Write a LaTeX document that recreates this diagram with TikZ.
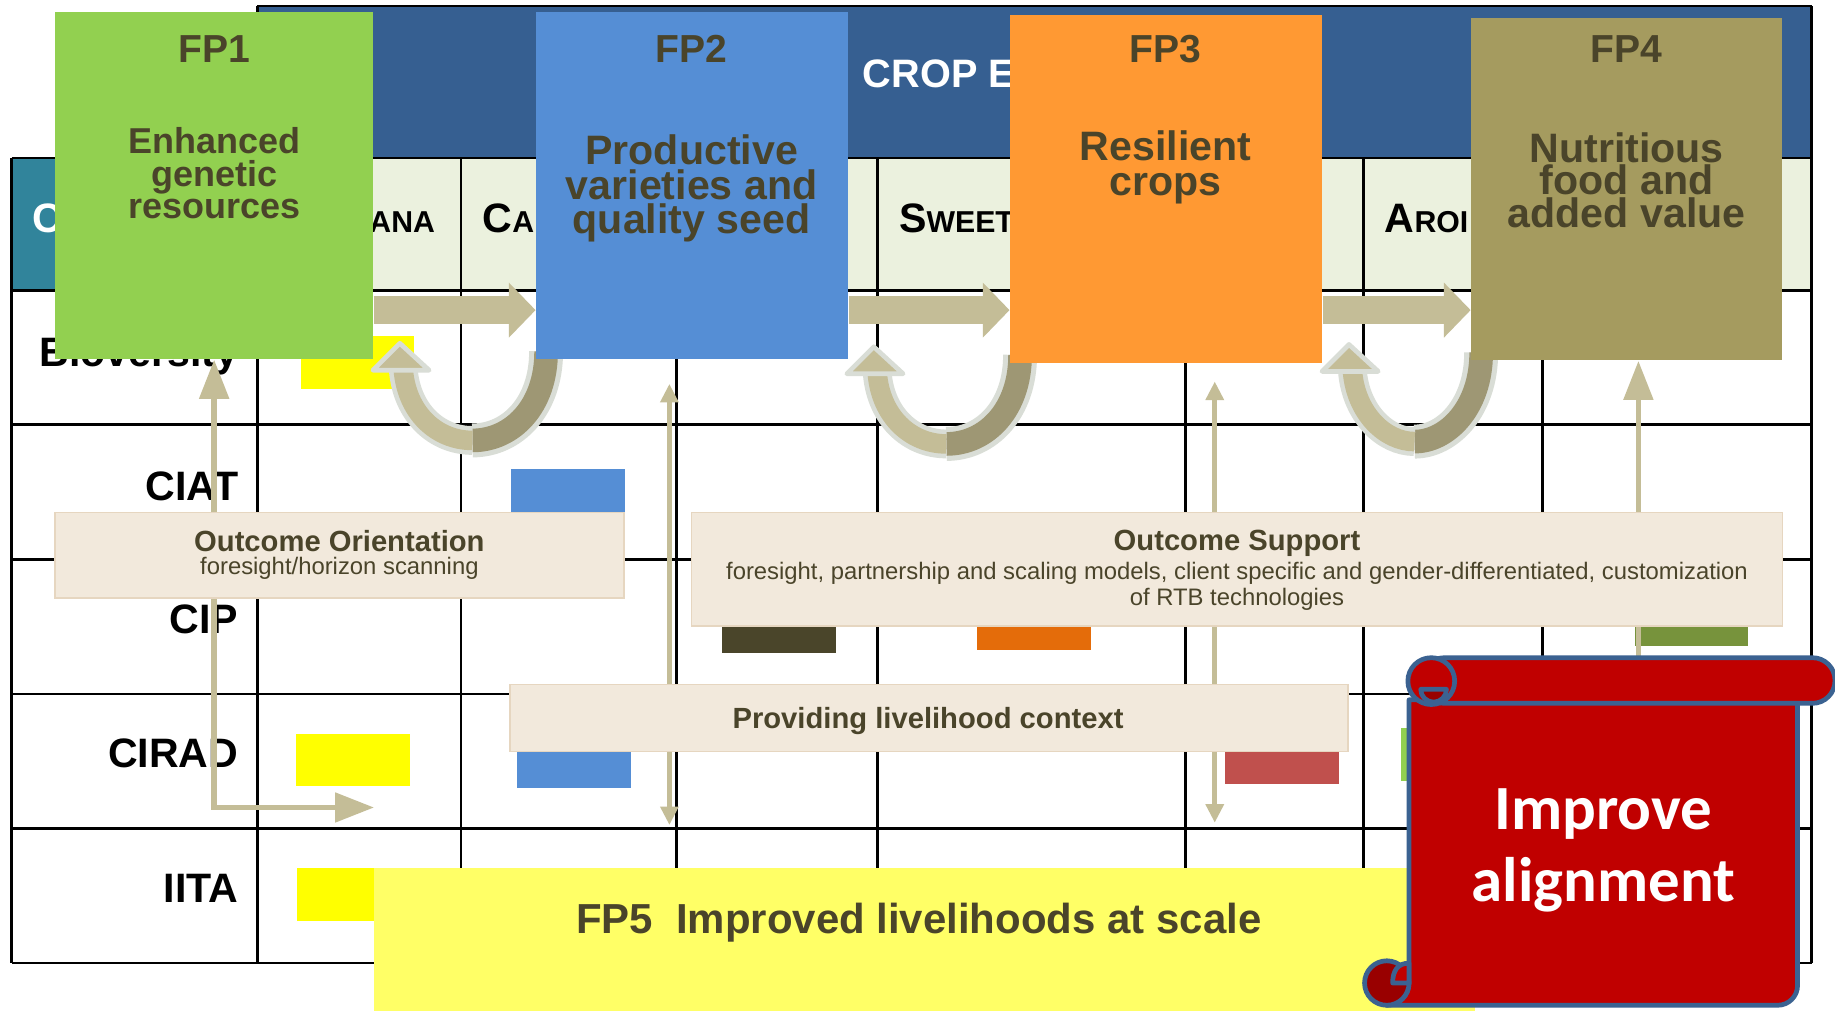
\documentclass[tikz,border=0pt]{standalone}
\usepackage{fontspec}
\setmainfont{Liberation Sans}
\newfontfamily\carlito{Carlito}
\usetikzlibrary{arrows.meta,fit}

\definecolor{hdrblue}{HTML}{365F91}
\definecolor{cornerteal}{HTML}{31849B}
\definecolor{hdrgreen}{HTML}{EBF1DE}
\definecolor{fpgreen}{HTML}{92D050}
\definecolor{fpblue}{HTML}{558ED5}
\definecolor{fporange}{HTML}{FF9933}
\definecolor{fpolive}{HTML}{A59B5F}
\definecolor{fptext}{HTML}{4A442A}
\definecolor{arrowtan}{HTML}{C4BD97}
\definecolor{arrowdark}{HTML}{9E9774}
\definecolor{arrowrim}{HTML}{D9DDD6}
\definecolor{ctxfill}{HTML}{F2E9DC}
\definecolor{ctxrim}{HTML}{E6D6C0}
\definecolor{fpyellow}{HTML}{FFFF66}
\definecolor{mkyellow}{HTML}{FFFF00}
\definecolor{mkdark}{HTML}{4A452A}
\definecolor{mkorange}{HTML}{E46C0A}
\definecolor{mkolive}{HTML}{77933C}
\definecolor{mkred}{HTML}{C0504D}
\definecolor{scrollred}{HTML}{C00000}
\definecolor{scrolldark}{HTML}{990000}
\definecolor{scrollrim}{HTML}{3B6291}

\pgfdeclarelayer{grid}
\pgfdeclarelayer{links}
\pgfsetlayers{grid,links,main}

\tikzset{
  bigtip/.tip={Triangle[length=19pt,width=14pt]},
  smalltip/.tip={Triangle[length=9pt,width=8.5pt]}
}

% crop names in small capitals
\newcommand\fsc[2]{{\fontsize{20}{20}\selectfont#1}{\fontsize{14.7}{15}\selectfont#2}}

\begin{document}
\begin{tikzpicture}[x=0.02cm,y=-0.02cm,
    gridline/.style={line width=1.3pt,black},
    fpbox/.style={fill=#1,inner sep=0pt},
    fptitle/.style={text=fptext,inner sep=0pt,font=\fontsize{19}{19}\selectfont\bfseries},
    fpdesc/.style={text=fptext,align=center,inner sep=0pt},
    rowlab/.style={anchor=base east,inner sep=0pt,font=\fontsize{20}{20}\selectfont\bfseries},
    collab/.style={anchor=base west,inner sep=0pt,font=\bfseries},
    ctxbox/.style={fill=ctxfill,draw=ctxrim,line width=0.8pt,inner sep=0pt},
    ctxhead/.style={text=fptext,inner sep=0pt,font=\fontsize{14.2}{14}\selectfont\bfseries},
    ctxsub/.style={text=fptext,inner sep=0pt,align=center,font=\fontsize{11.6}{12.5}\selectfont},
    bigarrow/.style={draw=arrowtan,line width=13.6pt,-{Triangle[length=13pt,width=26pt]}},
    thickline/.style={draw=arrowtan,line width=2.8pt},
    thinline/.style={draw=arrowtan,line width=2.3pt},
    scroll/.style={fill=scrollred,draw=scrollrim,line width=2.3pt,line join=round}]

\useasboundingbox (0,0) rectangle (1568,864);

% flagship boxes
\node[fpbox=fpgreen,fit={(47,10)(319,307)}] (fp1) {};
\node[fpbox=fpblue,fit={(458,10)(725,307)}] (fp2) {};
\node[fpbox=fporange,fit={(863,13)(1130,310)}] (fp3) {};
\node[fpbox=fpolive,fit={(1257,15)(1523,308)}] (fp4) {};

\node[fptitle] (fp1t) at (183,42) {FP1};
\node[fptitle] (fp2t) at (591,42) {FP2};
\node[fptitle] (fp3t) at (996,42) {FP3};
\node[fptitle] (fp4t) at (1390,42) {FP4};
\node[fpdesc,font=\fontsize{17.5}{15.9}\selectfont\bfseries] (fp1d) at (183,148) {Enhanced\\genetic\\resources};
\node[fpdesc,font=\fontsize{20}{17}\selectfont\bfseries] (fp2d) at (591,161) {Productive\\varieties and\\quality seed};
\node[fpdesc,font=\fontsize{20}{16.6}\selectfont\bfseries] (fp3d) at (996,143) {Resilient\\crops};
\node[fpdesc,font=\fontsize{20}{15.8}\selectfont\bfseries] (fp4d) at (1390,154) {Nutritious\\food and\\added value};

% outcome boxes
\node[ctxbox,fit={(47,438)(533,511)}] (orient) {};
\node[ctxhead] at (290,462) {Outcome Orientation};
\node[ctxsub] at (290,486) {foresight/horizon scanning};
\node[ctxbox,fit={(591,438)(1523,535)}] (support) {};
\node[ctxhead] at (1057,464) {Outcome Support};
\node[ctxsub] at (1057,501) {foresight, partnership and scaling models, client specific and gender-differentiated, customization\\of RTB technologies};
\node[ctxbox,fit={(436,585)(1152,642)}] (context) {};
\node[ctxhead] at (793,616) {Providing livelihood context};

% FP5
\node[fpbox=fpyellow,fit={(320,742)(1260,864)}] (fp5) {};
\node[text=fptext,inner sep=0pt,font=\fontsize{20.4}{20}\selectfont\bfseries] (fp5t) at (785,788) {FP5~ Improved livelihoods at scale};

% scroll
\filldraw[scroll] (1204,598) -- (1204,840) arc[start angle=0,end angle=90,radius=19]
  -- (1519,859) arc[start angle=90,end angle=0,radius=17] -- (1536,598) -- cycle;
\filldraw[scroll,fill=scrolldark] (1185,840) circle[radius=19];
\filldraw[scroll] (1190,840) -- (1204,840) -- (1204,823) .. controls (1194,823) and (1190,830) .. cycle;
\filldraw[scroll,rounded corners=11pt] (1215,562) rectangle (1568,601);
\filldraw[scroll] (1223,582) circle[radius=20];
\filldraw[scroll,fill=scrolldark] (1236,589) arc[start angle=0,end angle=180,radius=11] -- cycle;
\node[text=white,align=center,inner sep=0pt,font=\carlito\fontsize{30.6}{35}\selectfont\bfseries] (align) at (1370,727) {Improve\\alignment};

\begin{pgfonlayer}{grid}
  \fill[white] (0,0) rectangle (1568,864);
  \fill[hdrblue] (220,5) rectangle (1548,135);
  \fill[cornerteal] (10,135) rectangle (220,248);
  \fill[hdrgreen] (220,135) rectangle (1548,248);
  \draw[gridline] (220,5) -- (1548,5);
  \foreach \y in {135,248,363,478,593,708,823}
    \draw[gridline] (10,\y) -- (1548,\y);
  \foreach \x in {10,394,578,750,1013,1165,1318}
    \draw[gridline] (\x,135) -- (\x,823);
  \foreach \x in {220,1548}
    \draw[gridline] (\x,5) -- (\x,823);
  % headings
  \node[collab,text=white,font=\fontsize{19.3}{20}\selectfont\bfseries] (crop) at (737,75) {CROP E};
  \node[collab,text=white,font=\fontsize{20}{20}\selectfont\bfseries] (corner) at (27,199) {C};
  \node[collab,anchor=base east] (banana) at (372,199) {\fsc{}{ANA}};
  \node[collab] (cassava) at (412,199) {\fsc{C}{A}};
  \node[collab] (sweet) at (768,199) {\fsc{S}{WEET}};
  \node[collab] (aroids) at (1183,199) {\fsc{A}{ROI}};
  \node[rowlab] (biov) at (204,313) {Bioversity};
  \node[rowlab] (ciat) at (204,428) {CIAT};
  \node[rowlab] (cip) at (204,541) {CIP};
  \node[rowlab] (cirad) at (204,656) {CIRAD};
  \node[rowlab] (iita) at (204,771) {IITA};
  % cell marks
  \foreach \x/\y/\c in {257/287/mkyellow,437/401/fpblue,617/513/mkdark,835/510/mkorange,1397/507/mkolive,
      253/627/mkyellow,442/628/fpblue,1047/625/mkred,1197/622/fpgreen,254/742/mkyellow}
    \fill[\c] (\x,\y) rectangle ++(97,45);
\end{pgfonlayer}

\begin{pgfonlayer}{links}
  \coordinate (ay) at (0,265);
  \draw[bigarrow] (fp1.east |- ay) -- (fp2.west |- ay);
  \draw[bigarrow] (fp2.east |- ay) -- (fp3.west |- ay);
  \draw[bigarrow] (fp3.east |- ay) -- (fp4.west |- ay);
  % loops back
  \foreach \b/\d in {fp2/0,fp3/0,fp4/12}{
    \begin{scope}[shift={(\b.south west)}]
      \draw[draw=arrowrim,line width=16.5pt] (-54+\d/2,69) .. controls (-20,69) and (9,40) .. (9,-7);
      \draw[draw=arrowdark,line width=11.5pt] (-54+\d/2,69) .. controls (-20,69) and (9,40) .. (9,-7);
      \draw[draw=arrowrim,line width=14pt] (-113+\d,9) .. controls (-110+\d,45) and (-85+\d,69) .. (-54+\d/2,69);
      \draw[draw=arrowtan,line width=9.5pt] (-113+\d,9) .. controls (-110+\d,45) and (-85+\d,69) .. (-54+\d/2,69);
      \filldraw[fill=arrowtan,draw=arrowrim,line width=2.3pt,line join=round] (-116+\d,-14) -- (-139+\d,9) -- (-91+\d,9) -- cycle;
    \end{scope}
  }
  % thin arrows
  \coordinate (bend) at (183,690);
  \draw[thickline,bigtip-bigtip] (fp1.south) -- (bend) -- (bend -| fp5.west);
  \coordinate (s2) at (572,328);
  \coordinate (e2) at (572,705);
  \draw[thinline,smalltip-smalltip] (s2) -- (e2);
  \coordinate (s3) at (1038,326);
  \coordinate (e3) at (1038,703);
  \draw[thinline,smalltip-smalltip] (s3) -- (e3);
  \coordinate (s4) at (1400,600);
  \draw[thickline,-bigtip] (s4) -- (s4 |- fp4.south);
\end{pgfonlayer}

\end{tikzpicture}
\end{document}
